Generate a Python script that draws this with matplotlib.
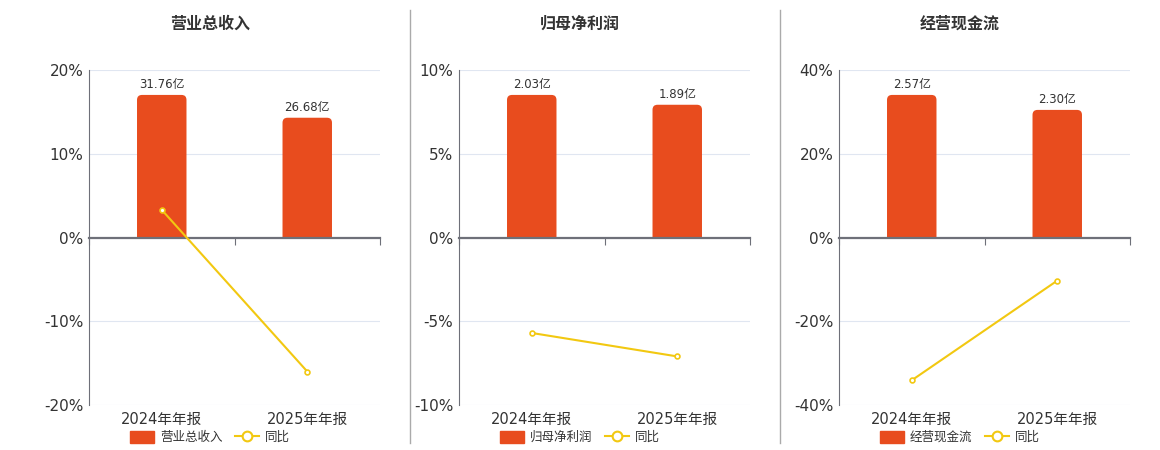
import numpy as np
import matplotlib.pyplot as plt
from matplotlib.lines import Line2D
from matplotlib.patches import Patch, FancyBboxPatch, Rectangle

plt.rcParams['font.family'] = ['DejaVu Sans', 'Noto Sans CJK SC']

# datos
periodos = ["2024年年报", "2025年年报"]
titulos = ["营业总收入", "归母净利润", "经营现金流"]
valores = [[31.76, 26.68], [2.03, 1.89], [2.57, 2.30]]
tongbi = [[3.3, -16.0], [-5.7, -7.1], [-34.1, -10.3]]
limites = [20, 10, 40]

color_barra = "#E84C1E"
color_linea = "#F2C811"
color_eje = "#6E7079"
color_grid = "#E0E6F1"

fig = plt.figure(figsize=(11.6, 4.5), dpi=100)

lefts = [89 / 1160, 459 / 1160, 839 / 1160]
ancho_px, alto_px = 291, 335
x = np.arange(len(periodos))
centro = 0.416  # título y leyenda centrados en el panel, no en el eje

for i in range(3):
    ax = fig.add_axes([lefts[i], 0.1, ancho_px / 1160, alto_px / 450])
    ax2 = ax.twinx()
    ax.set_zorder(ax2.get_zorder() + 1)
    ax.patch.set_visible(False)

    # barras en eje secundario (escala en 亿)
    m = max(valores[i]) * 168 / 143
    ax2.set_ylim(-m, m)
    ax2.set_xlim(-0.5, 1.5)
    bars = ax2.bar(x, valores[i], width=0.34, color=color_barra, zorder=2)
    ax2.bar_label(bars, labels=[f"{v:.2f}亿" for v in valores[i]],
                  padding=3, fontsize=8.5, color="#333333")
    # esquinas redondeadas
    px_x = 2 / ancho_px
    px_y = 2 * m / alto_px
    r = 5 * px_x
    clip = Rectangle((-0.5, 0), 2, m, transform=ax2.transData)
    for b in bars:
        b.set_visible(False)
        fb = FancyBboxPatch((b.get_x(), -r * px_y / px_x), b.get_width(),
                            b.get_height() + r * px_y / px_x,
                            boxstyle=f"round,pad=0,rounding_size={r}",
                            mutation_aspect=px_y / px_x,
                            facecolor=color_barra, edgecolor="none", zorder=2)
        ax2.add_patch(fb)
        fb.set_clip_path(clip)
    ax2.set_yticks(np.linspace(-m, m, 5))
    ax2.yaxis.grid(True, color=color_grid, linewidth=0.8, zorder=0)
    ax2.tick_params(axis="y", length=0, labelleft=False, labelright=False)
    for s in ax2.spines.values():
        s.set_visible(False)

    # línea de 同比
    lim = limites[i]
    ax.plot(x, tongbi[i], color=color_linea, linewidth=1.5, marker="o",
            markersize=3.5, markerfacecolor="white", markeredgecolor=color_linea,
            markeredgewidth=1.2, zorder=3)
    ax.set_ylim(-lim, lim)
    ticks = np.linspace(-lim, lim, 5)
    ax.set_yticks(ticks)
    ax.set_yticklabels([f"{int(t)}%" for t in ticks])
    ax.tick_params(axis="y", length=0, labelsize=11, colors="#333333", pad=4)
    ax.set_xlim(-0.5, 1.5)

    for s in ["top", "right"]:
        ax.spines[s].set_visible(False)
    ax.spines["left"].set_color(color_eje)
    ax.spines["bottom"].set_position(("data", 0))
    ax.spines["bottom"].set_color(color_eje)
    ax.spines["bottom"].set_linewidth(1.6)
    ax.set_xticks([-0.5, 0.5, 1.5])
    ax.set_xticklabels([])
    ax.tick_params(axis="x", length=5, color=color_eje, direction="out")

    sec = ax.secondary_xaxis(0.0)
    sec.set_xticks(x)
    sec.set_xticklabels(periodos)
    sec.tick_params(length=0, labelsize=10.5, colors="#333333", pad=5)
    sec.spines["bottom"].set_visible(False)

    ax.set_title(titulos[i], fontsize=11.5, fontweight="bold", color="#333333",
                 pad=30)
    ax.title.set_x(centro)

    handles = [Patch(facecolor=color_barra, edgecolor=color_barra),
               Line2D([0], [0], color=color_linea, linewidth=1.5, marker="o",
                      markersize=7, markerfacecolor="white",
                      markeredgecolor=color_linea, markeredgewidth=1.5)]
    ax.legend(handles, [titulos[i], "同比"], loc="upper center",
              bbox_to_anchor=(centro, -0.05), ncol=2, frameon=False,
              fontsize=9, handlelength=1.9, handleheight=1.1,
              columnspacing=1.0, handletextpad=0.5, labelcolor="#333333",
              borderpad=0.2)

# separadores verticales
for xs in [410 / 1160, 780 / 1160]:
    fig.add_artist(Line2D([xs, xs], [1 - 443 / 450, 1 - 10 / 450],
                          color="#AAAAAA", linewidth=1))

plt.savefig("out.png", dpi=100)
